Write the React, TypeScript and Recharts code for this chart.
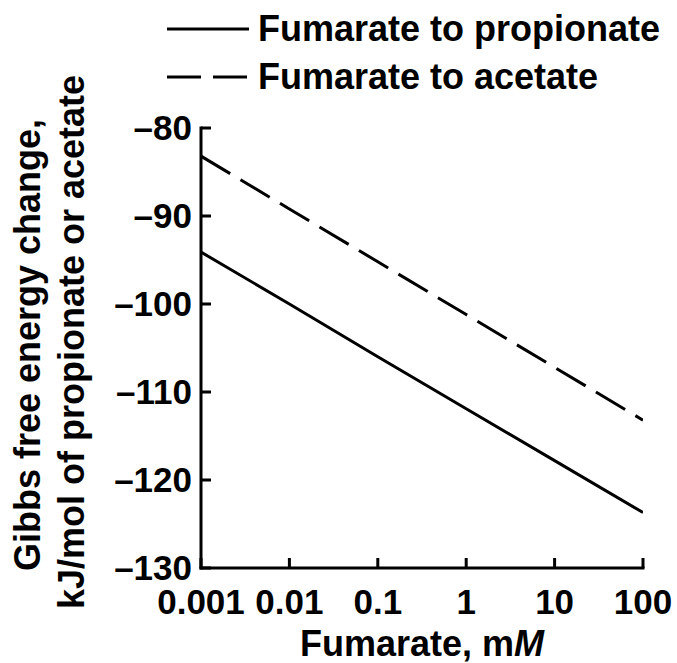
import { LineChart, Line, XAxis, YAxis, Legend } from "recharts";

// Fumarate concentration, mM (log axis)
const fumarate = [0.001, 0.01, 0.1, 1, 10, 100];
// Gibbs free energy change, kJ/mol
const toPropionate = [-94.1, -100.0, -106.0, -111.9, -117.8, -123.7];
const toAcetate = [-83.2, -89.2, -95.2, -101.2, -107.2, -113.2];

const xTicks = [0.001, 0.01, 0.1, 1, 10, 100];
const xTickLabels = ["0.001", "0.01", "0.1", "1", "10", "100"];
const yTicks = [-130, -120, -110, -100, -90, -80];

const seriesNames = ["Fumarate to propionate", "Fumarate to acetate"];
const seriesDash = ["", "34 12"];

const data = fumarate.map((x, i) => ({
  x,
  propionate: toPropionate[i],
  acetate: toAcetate[i],
}));

const FONT = "'Liberation Sans', Arial, Helvetica, sans-serif";
const TICK_LEN = 10;
const STROKE = 3;

// plot box
const W = 677;
const H = 663;
const M = { top: 128, right: 34, bottom: 0, left: 0 };
const Y_AXIS_W = 201;
const X_AXIS_H = 95;
const LEFT = M.left + Y_AXIS_W;
const RIGHT = W - M.right;
const TOP = M.top;
const BOTTOM = H - M.bottom - X_AXIS_H;

const BottomTick = (props: any) => {
  const { x, payload } = props;
  const i = xTicks.indexOf(payload.value);
  return (
    <g>
      <line x1={x} x2={x} y1={BOTTOM} y2={BOTTOM - TICK_LEN} stroke="#000" strokeWidth={STROKE} />
      <text x={x} y={BOTTOM + 46} textAnchor="middle" fontFamily={FONT} fontWeight={700} fontSize={35} fill="#000">
        {i >= 0 ? xTickLabels[i] : payload.value}
      </text>
    </g>
  );
};

const TopTick = (props: any) => {
  const { x } = props;
  return <line x1={x} x2={x} y1={TOP} y2={TOP + TICK_LEN} stroke="#000" strokeWidth={STROKE} />;
};

const LeftTick = (props: any) => {
  const { y, payload } = props;
  return (
    <g>
      <line x1={LEFT} x2={LEFT + TICK_LEN} y1={y} y2={y} stroke="#000" strokeWidth={STROKE} />
      <text x={LEFT - 9} y={y} dy="0.35em" textAnchor="end" fontFamily={FONT} fontWeight={700} fontSize={35} fill="#000">
        {String(payload.value).replace("-", "\u2013")}
      </text>
    </g>
  );
};

const RightTick = (props: any) => {
  const { y } = props;
  return <line x1={RIGHT} x2={RIGHT - TICK_LEN} y1={y} y2={y} stroke="#000" strokeWidth={STROKE} />;
};

const YTitle = () => (
  <g fontFamily={FONT} fontWeight={700} fontSize={36} fill="#000">
    <text transform="translate(40, 345) rotate(-90)" textAnchor="middle">
      Gibbs free energy change,
    </text>
    <text transform="translate(84, 342) rotate(-90)" textAnchor="middle">
      kJ/mol of propionate or acetate
    </text>
  </g>
);

const XTitle = (props: any) => {
  const { viewBox } = props;
  const cx = viewBox.x + viewBox.width / 2;
  return (
    <text x={cx} y={656} textAnchor="middle" fontFamily={FONT} fontWeight={700} fontSize={36} fill="#000">
      Fumarate, m<tspan fontStyle="italic">M</tspan>
    </text>
  );
};

const LegendBox = () => (
  <div style={{ fontFamily: FONT, fontWeight: 700, fontSize: 36, color: "#000" }}>
    {seriesNames.map((name, i) => (
      <div key={name} style={{ display: "flex", alignItems: "center", height: 48, whiteSpace: "nowrap" }}>
        <svg width={82} height={6} style={{ display: "block" }}>
          <line x1={0} x2={82} y1={3} y2={3} stroke="#000" strokeWidth={STROKE} strokeDasharray={seriesDash[i] || undefined} />
        </svg>
        <span style={{ marginLeft: 9 }}>{name}</span>
      </div>
    ))}
  </div>
);

export default function App() {
  const axisLine = { stroke: "#000", strokeWidth: STROKE, strokeLinecap: "square" as const };
  return (
    <div style={{ position: "absolute", left: 0, top: 0, background: "#fff" }}>
      <LineChart width={W} height={H} data={data} margin={M}>
        <XAxis
          dataKey="x"
          type="number"
          scale="log"
          domain={[0.001, 100]}
          ticks={xTicks}
          interval={0}
          allowDataOverflow
          height={X_AXIS_H}
          tickSize={0}
          tickMargin={0}
          tickLine={false}
          axisLine={axisLine}
          tick={<BottomTick />}
          label={<XTitle />}
        />
        <XAxis
          xAxisId="top"
          orientation="top"
          dataKey="x"
          type="number"
          scale="log"
          domain={[0.001, 100]}
          ticks={xTicks}
          interval={0}
          allowDataOverflow
          height={0}
          tickSize={0}
          tickMargin={0}
          tickLine={false}
          axisLine={axisLine}
          tick={<TopTick />}
        />
        <YAxis
          type="number"
          domain={[-130, -80]}
          ticks={yTicks}
          interval={0}
          allowDataOverflow
          width={Y_AXIS_W}
          tickSize={0}
          tickMargin={0}
          tickLine={false}
          axisLine={axisLine}
          tick={<LeftTick />}
          label={<YTitle />}
        />
        <YAxis
          yAxisId="right"
          orientation="right"
          type="number"
          domain={[-130, -80]}
          ticks={yTicks}
          interval={0}
          allowDataOverflow
          width={0}
          tickSize={0}
          tickMargin={0}
          tickLine={false}
          axisLine={axisLine}
          tick={<RightTick />}
        />
        <Legend
          layout="vertical"
          align="center"
          verticalAlign="middle"
          content={<LegendBox />}
          wrapperStyle={{ top: 5, left: 167, width: "auto" }}
        />
        <Line
          name={seriesNames[0]}
          dataKey="propionate"
          type="linear"
          stroke="#000"
          strokeWidth={STROKE}
          dot={false}
          isAnimationActive={false}
        />
        <Line
          name={seriesNames[1]}
          dataKey="acetate"
          type="linear"
          stroke="#000"
          strokeWidth={STROKE}
          strokeDasharray={seriesDash[1]}
          dot={false}
          isAnimationActive={false}
        />
      </LineChart>
    </div>
  );
}
